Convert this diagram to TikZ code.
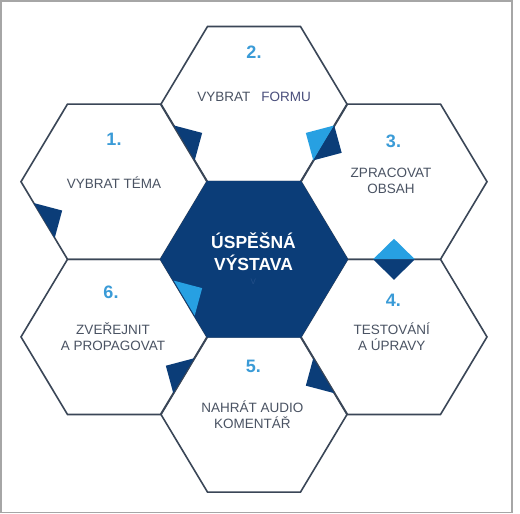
\documentclass[tikz,border=0pt]{standalone}
\usepackage{fontspec}
\setmainfont{Liberation Sans}
\usetikzlibrary{calc}
\definecolor{navy}{HTML}{0B3D78}
\definecolor{sky}{HTML}{27A0E2}
\definecolor{numblue}{HTML}{3A9BD7}
\definecolor{labelgray}{HTML}{4A5363}
\definecolor{formutint}{HTML}{4A4F7C}
\definecolor{hexgray}{HTML}{3A4657}
\definecolor{framegray}{HTML}{A6A6A6}
\definecolor{ghost}{HTML}{234F88}

% small triangle sitting on the middle of a hexagon side:
% #1 colour, #2 #3 ends of the side, #4 point the tip leans towards
\newcommand\halfdiamond[4]{%
  \coordinate (hdmid) at ($(#2)!0.5!(#3)$);
  \fill[#1] ($(#2)!0.275!(#3)$) -- ($(#2)!0.725!(#3)$) -- ($(hdmid)!20.5pt!(#4)$) -- cycle;
}

\begin{document}
\begin{tikzpicture}[x=1pt,y=-1pt,
  hexline/.style={draw=hexgray,line width=1.6pt,line join=miter},
  stepnum/.style={text=numblue,font=\fontsize{18}{20}\selectfont\bfseries,inner sep=0pt},
  steplabel/.style={text=labelgray,font=\fontsize{13.5}{16}\selectfont,align=center,inner sep=0pt},
  hubtext/.style={text=white,font=\fontsize{17.5}{21.5}\selectfont\bfseries,align=center,inner sep=0pt}]
\useasboundingbox (0,0) rectangle (520,514);
\fill[white] (0,0) rectangle (520,514);
\draw[framegray,line width=1.8pt] (1,1) rectangle (512,512.5);

% hexagon centres and corners (half width 93, half height 77.6)
\foreach \n/\x/\y in {hub/254/259.3, s1/114/181.7, s2/254/104.1, s3/394/181.7,
                      s4/394/336.9, s5/254/414.5, s6/114/336.9} {
  \coordinate (\n) at (\x,\y);
  \coordinate (\n-0) at (\x+93,\y);
  \coordinate (\n-1) at (\x+46.5,\y-77.6);
  \coordinate (\n-2) at (\x-46.5,\y-77.6);
  \coordinate (\n-3) at (\x-93,\y);
  \coordinate (\n-4) at (\x-46.5,\y+77.6);
  \coordinate (\n-5) at (\x+46.5,\y+77.6);
}

% outer ring of step hexagons
\foreach \n in {s1,s2,s3,s4,s5,s6}
  \draw[hexline] (\n-0) -- (\n-1) -- (\n-2) -- (\n-3) -- (\n-4) -- (\n-5) -- cycle;

% central hexagon
\filldraw[fill=navy,draw=navy,line width=1.6pt,line join=miter]
  (hub-0) -- (hub-1) -- (hub-2) -- (hub-3) -- (hub-4) -- (hub-5) -- cycle;

% accents on the sides
\halfdiamond{navy}{s2-3}{s2-4}{s2}
\halfdiamond{sky}{s2-5}{s2-0}{s2}
\halfdiamond{navy}{s2-5}{s2-0}{s3}
\halfdiamond{navy}{s1-3}{s1-4}{s1}
\halfdiamond{sky}{s3-4}{s3-5}{s3}
\halfdiamond{navy}{s3-4}{s3-5}{s4}
\halfdiamond{sky}{hub-3}{hub-4}{hub}
\halfdiamond{navy}{s6-5}{s6-0}{s6}
\halfdiamond{navy}{s5-0}{s5-1}{s5}

% texts
\node[hubtext] (hubl) at (253.5,251.5) {ÚSPĚŠNÁ\\VÝSTAVA};
\node[text=ghost,font=\fontsize{8}{9}\selectfont,inner sep=0pt] (hubv) at (253.3,281.7) {V};

\node[stepnum] (n1) at (114,139.3) {1.};
\node[steplabel] (l1) at (114,182.3) {VYBRAT TÉMA};

\node[stepnum] (n2) at (254,52.7) {2.};
\node[steplabel] (l2) at (254.2,96.7) {VYBRAT\hspace{11pt}\textcolor{formutint}{FORMU}};

\node[stepnum] (n3) at (393.5,141.7) {3.};
\node[steplabel] (l3) at (391,181.3) {ZPRACOVAT\\OBSAH};

\node[stepnum] (n4) at (393.3,300) {4.};
\node[steplabel] (l4) at (391.7,336.5) {TESTOVÁNÍ\\A ÚPRAVY};

\node[stepnum] (n5) at (253.3,366) {5.};
\node[steplabel] (l5) at (252.3,414.8) {NAHRÁT AUDIO\\KOMENTÁŘ};

\node[stepnum] (n6) at (111,292.7) {6.};
\node[steplabel] (l6) at (113,336.8) {ZVEŘEJNIT\\A PROPAGOVAT};
\end{tikzpicture}
\end{document}
